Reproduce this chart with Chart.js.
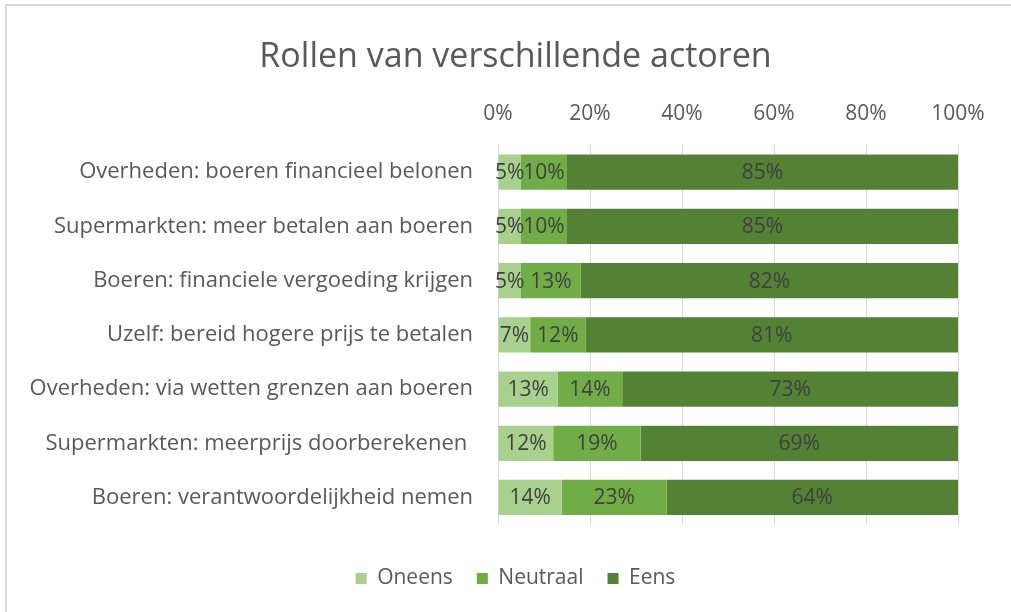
<!DOCTYPE html>
<html>
<head>
<meta charset="utf-8">
<script src="https://cdn.jsdelivr.net/npm/chart.js@4"></script>
<style>
  html, body { margin: 0; padding: 0; background: #fff; }
  #wrap { position: relative; width: 1011px; height: 612px; }
  #frame { position: absolute; left: 5px; top: 4px; right: -2px; bottom: -2px; border-left: 2px solid #d9d9d9; border-top: 2px solid #d9d9d9; }
  canvas { position: absolute; left: 0; top: 0; }
</style>
</head>
<body>
<div id="wrap">
  <div id="frame"></div>
  <canvas id="chart" width="1011" height="612"></canvas>
</div>
<script>
const categories = [
  'Overheden: boeren financieel belonen',
  'Supermarkten: meer betalen aan boeren',
  'Boeren: financiele vergoeding krijgen',
  'Uzelf: bereid hogere prijs te betalen',
  'Overheden: via wetten grenzen aan boeren',
  'Supermarkten: meerprijs doorberekenen ',
  'Boeren: verantwoordelijkheid nemen'
];
const oneens = [5, 5, 5, 7, 13, 12, 14];
const neutraal = [10, 10, 13, 12, 14, 19, 23];
const eens = [85, 85, 82, 81, 73, 69, 64];
const xTicks = [0, 20, 40, 60, 80, 100];

const FONT = "'Open Sans', sans-serif";

// 100% gestapeld: per rij normaliseren (zoals Excel)
const totals = categories.map((_, i) => oneens[i] + neutraal[i] + eens[i]);
const pct = arr => arr.map((v, i) => v / totals[i] * 100);

const series = [
  { label: 'Oneens', raw: oneens, color: '#a9d18e' },
  { label: 'Neutraal', raw: neutraal, color: '#70ad47' },
  { label: 'Eens', raw: eens, color: '#548235' }
];

// labels midden in elk segment
const barLabels = {
  id: 'barLabels',
  afterDatasetsDraw(chart) {
    const ctx = chart.ctx;
    ctx.save();
    ctx.font = '21px ' + FONT;
    ctx.fillStyle = '#404040';
    ctx.textAlign = 'center';
    ctx.textBaseline = 'middle';
    chart.data.datasets.forEach((ds, di) => {
      chart.getDatasetMeta(di).data.forEach((bar, i) => {
        const x = (bar.x + bar.base) / 2;
        ctx.fillText(ds.raw[i] + '%', x, bar.y + 1);
      });
    });
    ctx.restore();
  }
};

new Chart(document.getElementById('chart'), {
  type: 'bar',
  data: {
    labels: categories,
    datasets: series.map(s => ({
      label: s.label,
      raw: s.raw,
      data: pct(s.raw),
      backgroundColor: s.color,
      borderWidth: 0,
      categoryPercentage: 0.65,
      barPercentage: 1
    }))
  },
  options: {
    indexAxis: 'y',
    responsive: false,
    animation: false,
    layout: { padding: { left: 20, right: 0, top: 0, bottom: 13 } },
    scales: {
      x: {
        position: 'top',
        stacked: true,
        min: 0,
        max: 100,
        afterBuildTicks(scale) { scale.ticks = xTicks.map(v => ({ value: v })); },
        afterFit(scale) { scale.height = 57.6; scale.paddingRight = 53; },
        grid: { color: '#d9d9d9', lineWidth: 1, drawTicks: false },
        border: { display: false },
        ticks: {
          padding: 18,
          color: '#595959',
          font: { family: FONT, size: 21 },
          callback: v => v + '%'
        }
      },
      y: {
        stacked: true,
        afterFit(scale) { scale.width = 478; },
        grid: { display: false, drawTicks: false },
        border: { display: false },
        ticks: {
          padding: 25,
          color: '#595959',
          font: { family: FONT, size: 22 }
        }
      }
    },
    plugins: {
      title: {
        display: true,
        text: 'Rollen van verschillende actoren',
        color: '#595959',
        font: { family: FONT, size: 34, weight: 'normal' },
        padding: { top: 36.6, bottom: 10 }
      },
      legend: {
        position: 'bottom',
        title: { display: true, text: '', font: { size: 1 }, padding: { top: 18.2, bottom: 0 } },
        labels: {
          color: '#595959',
          font: { family: FONT, size: 21 },
          boxWidth: 11,
          boxHeight: 11,
          padding: 24
        }
      },
      tooltip: { enabled: false }
    }
  },
  plugins: [barLabels]
});
</script>
</body>
</html>
